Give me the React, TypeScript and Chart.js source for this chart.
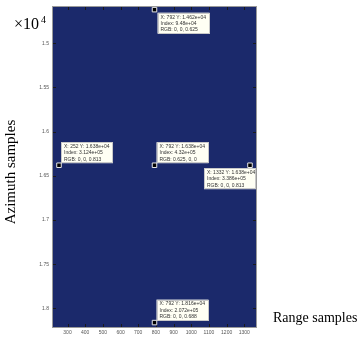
import React, { useEffect, useRef } from 'react';
import { Chart, registerables } from 'chart.js';

Chart.register(...registerables);

// Axis ranges (image extent in samples)
const xRange = [218, 1366];
const yRange = [14590, 18210];

// Tick values / labels
const xTicks = [300, 400, 500, 600, 700, 800, 900, 1000, 1100, 1200, 1300];
const yTicks = [15000, 15500, 16000, 16500, 17000, 17500, 18000];
const yTickLabels = ['1.5', '1.55', '1.6', '1.65', '1.7', '1.75', '1.8'];

// Data tips
const tipX = [792, 252, 792, 1332, 792];
const tipY = [14620, 16380, 16380, 16380, 18160];
const tipYText = ['1.462e+04', '1.638e+04', '1.638e+04', '1.638e+04', '1.816e+04'];
const tipIndex = ['9.48e+04', '3.124e+05', '4.32e+05', '3.386e+05', '2.072e+05'];
const tipRGB = ['0, 0, 0.625', '0, 0, 0.813', '0.625, 0, 0', '0, 0, 0.813', '0, 0, 0.688'];
const tipPlacement = ['below-right', 'above-right', 'above-right', 'below-left', 'above-right'];

const PLOT_BG = 'rgb(27, 41, 107)';

const decorPlugin = {
  id: 'decor',
  beforeDraw(chart: any) {
    const { ctx, chartArea: a } = chart;
    ctx.save();
    ctx.fillStyle = PLOT_BG;
    ctx.fillRect(a.left, a.top, a.right - a.left, a.bottom - a.top);
    ctx.restore();
  },
  beforeDatasetsDraw(chart: any) {
    const { ctx, chartArea: a, scales } = chart;
    ctx.save();
    ctx.strokeStyle = '#1a1a1a';
    ctx.lineWidth = 1;
    const tl = 3;
    xTicks.forEach((v) => {
      const x = Math.round(scales.x.getPixelForValue(v)) + 0.5;
      ctx.beginPath();
      ctx.moveTo(x, a.top);
      ctx.lineTo(x, a.top + tl);
      ctx.moveTo(x, a.bottom);
      ctx.lineTo(x, a.bottom - tl);
      ctx.stroke();
    });
    yTicks.forEach((v) => {
      const y = Math.round(scales.y.getPixelForValue(v)) + 0.5;
      ctx.beginPath();
      ctx.moveTo(a.left, y);
      ctx.lineTo(a.left + tl, y);
      ctx.moveTo(a.right, y);
      ctx.lineTo(a.right - tl, y);
      ctx.stroke();
    });
    ctx.strokeStyle = '#9a9a9a';
    ctx.strokeRect(a.left - 0.5, a.top - 0.5, a.right - a.left + 1, a.bottom - a.top + 1);
    ctx.restore();
  },
  afterDatasetsDraw(chart: any) {
    const { ctx, scales } = chart;
    ctx.save();
    ctx.font = '5px "Liberation Sans", Arial, sans-serif';
    ctx.textBaseline = 'middle';
    ctx.textAlign = 'left';
    const bw = 52;
    const bh = 21;
    tipX.forEach((xv, i) => {
      const px = scales.x.getPixelForValue(xv);
      const py = scales.y.getPixelForValue(tipY[i]);
      const place = tipPlacement[i];
      let bx = px + 3;
      let by = py + 3;
      if (place === 'above-right') {
        bx = px + 2;
        by = py - 2 - bh;
      } else if (place === 'below-left') {
        bx = px + 6 - bw;
        by = py + 3;
      }
      ctx.fillStyle = '#fffff4';
      ctx.fillRect(bx, by, bw, bh);
      ctx.strokeStyle = '#c8c8c8';
      ctx.lineWidth = 1;
      ctx.strokeRect(Math.round(bx) + 0.5, Math.round(by) + 0.5, bw - 1, bh - 1);
      ctx.fillStyle = '#333';
      const lines = [`X: ${xv} Y: ${tipYText[i]}`, `Index: ${tipIndex[i]}`, `RGB: ${tipRGB[i]}`];
      lines.forEach((t, k) => ctx.fillText(t, bx + 3, by + 4.5 + k * 6.2));
    });
    ctx.restore();
  },
  afterDraw(chart: any) {
    const { ctx, chartArea: a } = chart;
    ctx.save();
    ctx.fillStyle = '#000';
    ctx.textBaseline = 'alphabetic';
    ctx.font = '16px "Liberation Serif", "Times New Roman", serif';
    ctx.textAlign = 'left';
    ctx.fillText('\u00d710', 14, 29);
    ctx.font = '10px "Liberation Serif", "Times New Roman", serif';
    ctx.fillText('4', 41, 23);
    ctx.font = '14px "Liberation Serif", "Times New Roman", serif';
    ctx.textAlign = 'left';
    ctx.fillText('Range samples', a.right + 17, 322);
    ctx.font = '15px "Liberation Serif", "Times New Roman", serif';
    ctx.textAlign = 'center';
    ctx.translate(15, 172);
    ctx.rotate(-Math.PI / 2);
    ctx.fillText('Azimuth samples', 0, 0);
    ctx.restore();
  },
};

export default function App() {
  const ref = useRef<HTMLCanvasElement | null>(null);
  useEffect(() => {
    document.body.style.margin = '0';
    const canvas = ref.current;
    if (!canvas) return;
    const chart = new Chart(canvas, {
      type: 'scatter',
      data: {
        datasets: [
          {
            data: tipX.map((x, i) => ({ x, y: tipY[i] })),
            pointStyle: 'rect',
            pointRadius: 3.2,
            backgroundColor: '#000',
            borderColor: '#e8e8e8',
            borderWidth: 1,
          },
        ],
      },
      options: {
        responsive: false,
        animation: false,
        events: [],
        layout: { padding: { left: 0, top: 6, right: 102, bottom: 0 } },
        plugins: { legend: { display: false }, tooltip: { enabled: false } },
        scales: {
          x: {
            type: 'linear',
            min: xRange[0],
            max: xRange[1],
            grid: { display: false, drawTicks: false },
            border: { display: false },
            afterBuildTicks: (s: any) => {
              s.ticks = xTicks.map((v) => ({ value: v }));
            },
            afterFit: (s: any) => {
              s.height = 11;
            },
            ticks: {
              autoSkip: false,
              maxRotation: 0,
              padding: 3,
              color: '#555',
              font: { size: 5, family: '"Liberation Sans", Arial, sans-serif' },
              callback: (v: any) => String(v),
            },
          },
          y: {
            type: 'linear',
            reverse: true,
            min: yRange[0],
            max: yRange[1],
            grid: { display: false, drawTicks: false },
            border: { display: false },
            afterBuildTicks: (s: any) => {
              s.ticks = yTicks.map((v) => ({ value: v }));
            },
            afterFit: (s: any) => {
              s.width = 53;
            },
            ticks: {
              autoSkip: false,
              padding: 4,
              color: '#555',
              font: { size: 5, family: '"Liberation Sans", Arial, sans-serif' },
              callback: (v: any) => {
                const i = yTicks.indexOf(Number(v));
                return i >= 0 ? yTickLabels[i] : '';
              },
            },
          },
        },
      },
      plugins: [decorPlugin],
    });
    return () => chart.destroy();
  }, []);
  return (
    <div style={{ width: 358, height: 338 }}>
      <canvas ref={ref} width={358} height={338} style={{ display: 'block' }} />
    </div>
  );
}
